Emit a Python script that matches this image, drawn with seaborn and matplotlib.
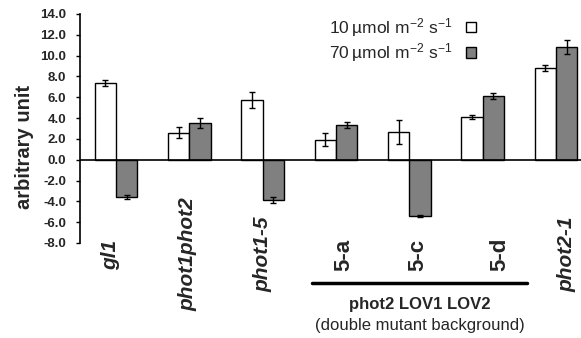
import seaborn as sns
import pandas as pd
import matplotlib.pyplot as plt

# valores
genotipos = ["gl1", "phot1phot2", "phot1-5", "5-a", "5-c", "5-d", "phot2-1"]
luz = ["10\u2009µmol m$^{-2}$ s$^{-1}$", "70\u2009µmol m$^{-2}$ s$^{-1}$"]
baixa = [7.35, 2.6, 5.75, 1.9, 2.65, 4.1, 8.8]
baixa_err = [0.28, 0.5, 0.8, 0.62, 1.15, 0.2, 0.27]
alta = [-3.6, 3.5, -3.85, 3.35, -5.4, 6.15, 10.85]
alta_err = [0.2, 0.5, 0.3, 0.28, 0.1, 0.3, 0.65]
italico = [True, True, True, False, False, False, True]

df = pd.DataFrame({
    "Genotipo": genotipos * 2,
    "Luz": [luz[0]] * len(genotipos) + [luz[1]] * len(genotipos),
    "Valor": baixa + alta,
})

sns.set_style("white")
plt.rcParams["font.family"] = ["Liberation Sans", "DejaVu Sans"]
plt.rcParams["mathtext.default"] = "regular"

fig, ax = plt.subplots(figsize=(5.81, 3.38), dpi=100)
fig.subplots_adjust(left=0.1377, right=1.0, top=0.9586, bottom=0.2811)

sns.barplot(data=df, x="Genotipo", y="Valor", hue="Luz", order=genotipos,
            hue_order=luz, palette=["white", "#808080"], width=0.58, gap=0,
            edgecolor="black", linewidth=1, errorbar=None, ax=ax)

# barras de erro
for cont, errs in zip(ax.containers, [baixa_err, alta_err]):
    xs = [b.get_x() + b.get_width() / 2 for b in cont]
    ys = [b.get_height() for b in cont]
    ax.errorbar(xs, ys, yerr=errs, fmt="none", ecolor="black",
                elinewidth=1, capsize=2.5, capthick=1)

ax.axhline(0, color="black", lw=1.2, zorder=5)
ax.set_ylim(-8, 14)
ax.set_xlim(-0.49, 6.34)
ax.set_yticks(range(-8, 15, 2))
ax.set_yticklabels([f"{v:.1f}" for v in range(-8, 15, 2)],
                   fontweight="bold", fontsize=9.5)
ax.tick_params(axis="y", left=True, length=3, width=1, pad=7, color="black")
ax.tick_params(axis="x", bottom=False, labelbottom=False)
ax.set_xlabel("")
ax.set_ylabel("arbitrary unit", fontsize=14.5, fontweight="bold")
ax.yaxis.set_label_coords(-0.092, 0.42)

for s in ["top", "right", "bottom"]:
    ax.spines[s].set_visible(False)
ax.spines["left"].set_color("black")
ax.spines["left"].set_linewidth(1.2)

# rótulos do eixo x
desloc = [-0.08, -0.02, 0.01, 0.1, 0.11, 0.24, 0.15]
trans = ax.get_xaxis_transform()
for i, (g, it) in enumerate(zip(genotipos, italico)):
    ax.text(i + desloc[i], -0.05, g, transform=trans, rotation=90,
            ha="center", va="center", fontweight="bold",
            fontstyle="italic" if it else "normal",
            fontsize=15 if it else 16)

ax.plot([2.67, 5.61], [-0.175, -0.175], transform=trans, color="black",
        lw=2.5, clip_on=False)
ax.text(4.14, -0.268, "phot2 LOV1 LOV2", transform=trans, ha="center",
        va="center", fontsize=12, fontweight="bold")
ax.text(4.14, -0.36, "(double mutant background)", transform=trans,
        ha="center", va="center", fontsize=12)

sns.move_legend(ax, loc="upper left", bbox_to_anchor=(0.465, 1.06),
                frameon=False, markerfirst=False, title=None, fontsize=12.5,
                handlelength=0.55, handleheight=0.55, handletextpad=0.8,
                labelspacing=0.15)

plt.savefig("out.png", dpi=100)
